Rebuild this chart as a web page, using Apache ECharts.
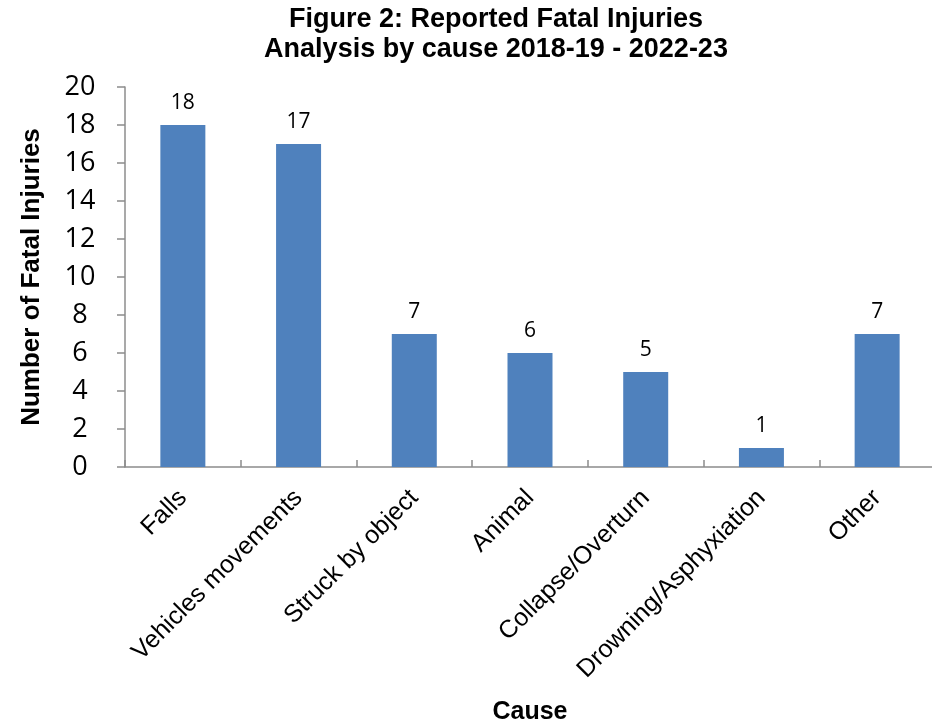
<!DOCTYPE html>
<html>
<head>
<meta charset="utf-8">
<script src="https://cdn.jsdelivr.net/npm/echarts@6/dist/echarts.min.js"></script>
<style>
  html, body { margin: 0; padding: 0; background: #fff; }
  #chart { width: 932px; height: 728px; }
</style>
</head>
<body>
<div id="chart"></div>
<script>
// Fatal injuries by cause, 2018-19 to 2022-23
const causes = ['Falls', 'Vehicles movements', 'Struck by object', 'Animal', 'Collapse/Overturn', 'Drowning/Asphyxiation', 'Other'];
const fatalities = [18, 17, 7, 6, 5, 1, 7];
const yTicks = { min: 0, max: 20, step: 2 };

const chart = echarts.init(document.getElementById('chart'), null, { renderer: 'canvas' });

const axisGray = '#8c8c8c';
const arial = 'Liberation Sans, Arial, sans-serif';
const numFont = 'Open Sans, sans-serif';

chart.setOption({
  backgroundColor: '#ffffff',
  animation: false,
  title: {
    text: 'Figure 2: Reported Fatal Injuries\nAnalysis by cause 2018-19 - 2022-23',
    left: 491,
    textAlign: 'center',
    top: 0,
    textStyle: {
      fontFamily: arial,
      fontWeight: 'bold',
      fontSize: 27,
      lineHeight: 30,
      color: '#000'
    }
  },
  grid: {
    left: 125,
    top: 87,
    width: 810,
    height: 380,
    containLabel: false,
    outerBoundsMode: 'none'
  },
  xAxis: {
    type: 'category',
    data: causes,
    name: 'Cause',
    nameLocation: 'middle',
    nameGap: 233,
    nameTextStyle: {
      fontFamily: arial,
      fontWeight: 'bold',
      fontSize: 25,
      color: '#000'
    },
    axisLine: { lineStyle: { color: axisGray, width: 1.5 } },
    axisTick: { show: true, inside: true, length: 7, alignWithLabel: false, lineStyle: { color: axisGray, width: 1.5 } },
    axisLabel: {
      rotate: 45,
      interval: 0,
      margin: 27,
      fontFamily: arial,
      fontSize: 25,
      color: '#000'
    }
  },
  yAxis: {
    type: 'value',
    min: yTicks.min,
    max: yTicks.max,
    interval: yTicks.step,
    name: 'Number of Fatal Injuries',
    nameLocation: 'middle',
    nameGap: 80,
    nameTextStyle: {
      fontFamily: arial,
      fontWeight: 'bold',
      fontSize: 26,
      color: '#000'
    },
    splitLine: { show: false },
    axisLine: { show: true, lineStyle: { color: axisGray, width: 1.5 } },
    axisTick: { show: true, inside: false, length: 8, lineStyle: { color: axisGray, width: 1.5 } },
    axisLabel: {
      margin: 45,
      align: 'center',
      fontFamily: numFont,
      fontSize: 27,
      color: '#000'
    }
  },
  series: [{
    type: 'bar',
    data: fatalities,
    barWidth: 45,
    itemStyle: { color: '#4f81bd' },
    label: {
      show: true,
      position: 'top',
      distance: 11,
      fontFamily: numFont,
      fontSize: 21,
      color: '#000'
    }
  }]
});
</script>
</body>
</html>
